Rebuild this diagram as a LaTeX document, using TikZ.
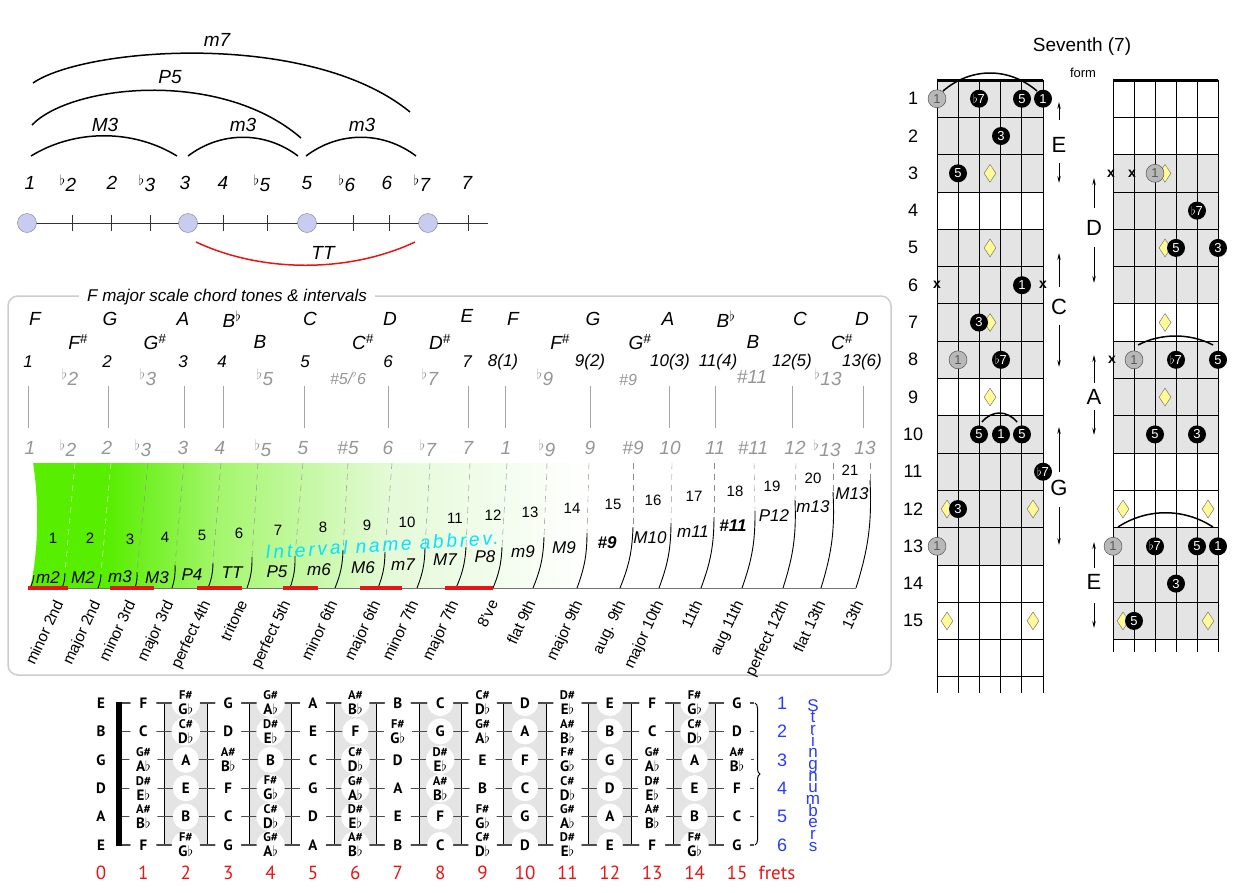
\documentclass[tikz,border=0pt]{standalone}
\usepackage{fontspec}
\setmainfont{Liberation Sans}
\newfontfamily\fretfont{PT Sans}
\usepackage{tikz}
\usetikzlibrary{shapes.geometric, arrows.meta, positioning, decorations.pathreplacing}

\definecolor{dotblue}{RGB}{200,204,240}
\definecolor{tonegray}{RGB}{150,150,150}
\definecolor{boxgray}{RGB}{205,205,205}
\definecolor{shadegray}{RGB}{228,228,228}
\definecolor{mrkyellow}{RGB}{255,250,150}
\definecolor{strblue}{RGB}{40,60,255}
\definecolor{fretred}{RGB}{235,20,20}
\definecolor{abbrcyan}{RGB}{0,228,255}
\definecolor{gA}{RGB}{88,238,0}
\definecolor{gB}{RGB}{165,246,110}
\definecolor{gC}{RGB}{228,250,215}

\pgfdeclarehorizontalshading{greenfade}{100bp}{color(0bp)=(gA); color(25bp)=(gA); color(32bp)=(gA); color(42bp)=(gB); color(57bp)=(gC); color(75bp)=(white); color(100bp)=(white)}

\newcommand\fsz[1]{\fontsize{#1}{#1}\selectfont}
\newcommand\sflat{\textsuperscript{$\flat$}}
\newcommand\twonote[2]{\fontsize{12.5}{11}\selectfont#1\\#2}
\newcommand\notename[1]{\ifcase#1 C\or\twonote{C\#}{D$\flat$}\or D\or\twonote{D\#}{E$\flat$}\or E\or F\or\twonote{F\#}{G$\flat$}\or G\or\twonote{G\#}{A$\flat$}\or A\or\twonote{A\#}{B$\flat$}\or B\fi}

\begin{document}
\begin{tikzpicture}[x=1pt, y=-1pt,
    lbl/.style={font=\itshape\fsz{19}},
    graylbl/.style={font=\itshape\fsz{19}, text=tonegray},
    semi/.style={font=\fsz{15}},
    abbr/.style={font=\itshape\fsz{17}},
    longname/.style={font=\fsz{15.5}, rotate=65, anchor=north east, inner sep=1},
    arcline/.style={line width=1.5},
    note/.style={circle, fill=white, minimum size=26, inner sep=0, align=center, font=\fretfont\bfseries\fsz{15}},
    fretnum/.style={font=\fretfont\fsz{19}, text=fretred},
    dot/.style={circle, fill=black, text=white, minimum size=18, inner sep=0, font=\fsz{13}},
    rdot/.style={circle, fill=black!28, draw=black!75, text=black!65, minimum size=18, inner sep=0, font=\fsz{13}},
    mrk/.style={diamond, fill=mrkyellow, draw=black!60, minimum width=12, minimum height=18, inner sep=0},
    xmark/.style={font=\bfseries\fsz{14}},
    fretline/.style={line width=0.8},
    lblarrow/.style={-{Stealth[length=7pt,width=3.5pt]}, line width=0.8},
    formlbl/.style={font=\fsz{22}}
]
\useasboundingbox (0,0) rectangle (1241,892);

% ---- intervals of the seventh chord
\draw[black!80, line width=1] (27,223) -- (488,223);
\foreach \x in {72,111,150,223,267,353,389,468}
  \draw[black!80] (\x,215) -- (\x,231);
\foreach \x [count=\i] in {27,188,307,428}
  \node[circle, fill=dotblue, draw=black!50, minimum size=19, inner sep=0] (deg\i) at (\x,223) {};
\foreach \x/\t in {30/1, 68/\sflat2, 112/2, 147/\sflat3, 185/3, 223/4, 262/\sflat5, 307/5, 347/\sflat6, 387/6, 422/\sflat7, 467/7}
  \node[lbl] at (\x,183) {\t};
\draw[arcline] (31,156) .. controls (75,129) and (133,129) .. (177,156);
\draw[arcline] (188,156) .. controls (221,131) and (265,131) .. (298,156);
\draw[arcline] (306,156) .. controls (339,131) and (383,131) .. (416,156);
\draw[arcline] (32,125) .. controls (70,85) and (220,68) .. (301,138);
\draw[arcline] (33,83) .. controls (85,47) and (310,30) .. (410,112);
\draw[arcline, fretred] (196,242) .. controls (262,273) and (349,273) .. (415,242);
\node[lbl] (iM3) at (105,125) {M3};
\node[lbl] (im3a) at (243,125) {m3};
\node[lbl] (im3b) at (362,125) {m3};
\node[lbl] (iP5) at (170,77) {P5};
\node[lbl] (im7) at (217,40) {m7};
\node[lbl] (iTT) at (323,253) {TT};

% ---- chord tones box
\draw[boxgray, line width=1.5, rounded corners=10] (8,296) rectangle (891,675);
\node[fill=white, inner xsep=8, font=\itshape\fsz{17}] (boxtitle) at (227,297) {F major scale chord tones \& intervals};

\foreach \x/\t in {35/F, 110/G, 183/A, 310/C, 390/D, 513/F, 593/G, 668/A, 800/C, 862/D}
  \node[lbl] at (\x,319) {\t};
\node[lbl] at (467,316) {E};
\node[lbl] at (232,319) {B\sflat};
\node[lbl] at (726,319) {B\sflat};
\foreach \x/\t in {78/F, 155/G, 363/C, 440/D, 560/F, 640/G, 842/C}
  \node[lbl] at (\x,342) {\t\textsuperscript{\#}};
\node[lbl] at (260,342) {B};
\node[lbl] at (753,342) {B};

\foreach \x/\t in {28/1, 107/2, 183/3, 222/4, 305/5, 388/6, 467/7, 503/8(1), 590/9(2), 670/10(3), 718/11(4), 792/12(5), 862/13(6)}
  \node[lbl, font=\itshape\fsz{17}] at (\x,362) {\t};
\foreach \x/\t in {70/\sflat2, 148/\sflat3, 265/\sflat5, 430/\sflat7, 545/\sflat9, 752/\#11, 828/\sflat13}
  \node[graylbl] at (\x,377) {\t};
\node[graylbl, font=\itshape\fsz{16}] at (348,377) {\#5/\sflat6};
\node[graylbl, font=\itshape\fsz{16}] at (628,380) {\#9};
\foreach \x in {28,108,184,223,304,388,468,505,590,669,715,792,863}
  \draw[black!35] (\x,386) -- (\x,428);
\foreach \x/\t in {30/1, 68/\sflat2, 107/2, 143/\sflat3, 183/3, 220/4, 263/\sflat5, 303/5, 348/\#5, 388/6, 428/\sflat7, 468/7, 506/1, 547/\sflat9, 590/9, 633/\#9, 670/10, 715/11, 753/\#11, 795/12, 827/\sflat13, 865/13}
  \node[graylbl] at (\x,448) {\t};

% green semitone band
\shade[shading=greenfade] (33,463) .. controls (39,500) and (39,550) .. (30,588) -- (590,588) -- (590,463) -- cycle;
\foreach \xd/\xt/\yt/\xb [count=\i] in {33/34/575/30, 75/65/573/62, 111/101/574/98, 148/137/572/135, 184/175/565/172, 221/213/563/208, 258/252/557/247, 303/295/556/290, 348/343/550/335, 392/385/552/378, 430/425/548/417, 470/466/547/456, 507/502/547/493, 547/544/537/533, 589/587/533/577, 633/633/527/620, 672/671/523/659, 714/714/517/701, 754/755/511/742, 796/795/500/783, 833/833/492/821, 870/870/480/856}{
  \ifnum\i<4 \def\dc{white}\else\def\dc{black!45}\fi
  \draw[\dc, dash pattern=on 6pt off 5pt] (\xd,463) -- (\xt,\yt);
  \draw[line width=0.9] (\xt,\yt) to[bend left=10] (\xb,588);
}
\draw[black!55] (28,588) -- (856,588);
\foreach \a/\b in {28/68, 110/154, 197/242, 283/318, 360/402, 445/493}
  \draw[fretred, line width=4] (\a,588) -- (\b,588);
\foreach \x/\y [count=\i] in {53/538, 90/538, 130/539, 165/537, 202/535, 239/533, 278/530, 323/527, 367/525, 407/522, 455/518, 493/515, 530/512, 572/508, 613/504, 653/500, 694/496, 735/491, 772/486, 813/478, 850/470}
  \node[semi] (semi\i) at (\x,\y) {\i};
\foreach \x/\y/\t in {48/578/m2, 83/578/M2, 120/577/m3, 157/578/M3, 192/575/P4, 232/573/TT, 277/572/P5, 319/570/m6, 363/568/M6, 403/565/m7, 445/560/M7, 485/557/P8, 523/552/m9, 564/548/M9, 650/538/M10, 693/532/m11, 774/516/P12, 813/507/m13, 852/494/M13}
  \node[abbr] at (\x,\y) {\t};
\node[abbr, font=\bfseries\itshape\fsz{17}] at (607,543) {\#9};
\node[abbr, font=\bfseries\itshape\fsz{17}] at (733,526) {\#11};
\node[text=abbrcyan, font=\itshape\fsz{19}\addfontfeature{LetterSpace=15}, rotate=3.5] (abbrev) at (382,545) {Interval name abbrev.};
\foreach \x/\t in {53/minor 2nd, 90/major 2nd, 125/minor 3rd, 163/major 3rd, 200/perfect 4th, 237/tritone, 280/perfect 5th, 327/minor 6th, 370/major 6th, 408/minor 7th, 448/major 7th, 488/8've, 525/flat 9th, 572/major 9th, 615/aug. 9th, 653/major 10th, 692/11th, 733/aug 11th, 778/perfect 12th, 815/flat 13th, 853/13th}
  \node[longname] at (\x,597) {\t};

% ---- fretboard with note names
\foreach \k in {2,4,...,14}
  \fill[shadegray] ({101+42.4*(\k-0.5)},703) rectangle ({101+42.4*(\k+0.5)},845);
\foreach \k in {1,...,14}
  \draw[line width=1] ({101+42.4*(\k+0.5)},703) -- ({101+42.4*(\k+0.5)},845);
\foreach \s in {1,...,6}
  \draw[black!70, line width=1.2] (119,{703+28.4*(\s-1)}) -- (754,{703+28.4*(\s-1)});
\fill (116,702) rectangle (122,846);
\foreach \s/\o/\t in {1/4/E, 2/11/B, 3/7/G, 4/2/D, 5/9/A, 6/4/E}{
  \node[note] (open\s) at (101,{703+28.4*(\s-1)}) {\t};
  \foreach \k in {1,...,15}{
    \pgfmathtruncatemacro\nn{mod(\o+\k,12)}
    \node[note] (n\s-\k) at ({101+42.4*\k},{703+28.4*(\s-1)}) {\notename{\nn}};
  }
  \node[font=\fsz{18}, text=strblue] (snum\s) at (782,{703+28.4*(\s-1)}) {\s};
}
\draw[line width=1, decorate, decoration={brace, amplitude=5}] (755,703) -- (755,845);
\foreach \k in {0,...,15}
  \node[fretnum] (fret\k) at ({101+42.4*\k},873) {\k};
\node[fretnum] (fretslbl) at (777,873) {frets};
\foreach \ch [count=\i] in {S,t,r,i,n,g,n,u,m,b,e,r,s}
  \node[font=\fsz{17}, text=strblue, anchor=base, inner sep=0] at (813,{711+11.67*(\i-1)}) {\ch};

% ---- seventh chord forms
\node[font=\fsz{19}] (charttitle) at (1082,47) {Seventh (7)};
\node[font=\fsz{13}] (formtitle) at (1083,73) {form};
\foreach \n in {1,...,15}
  \node[font=\fsz{18}] (fn\n) at (913,{80+37.3*(\n-0.5)}) {\n};

% left form
\fill[shadegray] (937,80) rectangle (1043,{80+37.3*3});
\fill[shadegray] (937,{80+37.3*4}) rectangle (1043,{80+37.3*8});
\fill[shadegray] (937,{80+37.3*9}) rectangle (1043,{80+37.3*13});
\foreach \n in {1,...,16}
  \draw[fretline] (937,{80+37.3*\n}) -- (1043,{80+37.3*\n});
\foreach \c in {0,...,5}
  \draw[fretline] ({937+21.2*\c},80) -- ({937+21.2*\c},693);
\draw[line width=3] (937,80) -- (1043,80);

% right form
\fill[shadegray] (1113,{80+37.3*2}) rectangle (1218,{80+37.3*6});
\fill[shadegray] (1113,{80+37.3*7}) rectangle (1218,{80+37.3*10});
\fill[shadegray] (1113,{80+37.3*12}) rectangle (1218,{80+37.3*15});
\foreach \n in {1,...,15}
  \draw[fretline] (1113,{80+37.3*\n}) -- (1218,{80+37.3*\n});
\foreach \c in {0,...,5}
  \draw[fretline] ({1113+21*\c},80) -- ({1113+21*\c},652);
\draw[line width=3] (1113,80) -- (1218,80);

% position markers
\foreach \x/\y in {990/173.3, 990/247.9, 990/322.5, 990/397.1, 947/509, 1033/509, 947/620.9, 1033/620.9, 1165/173.3, 1165/247.9, 1165/322.5, 1165/397.1, 1123/509, 1208/509, 1123/620.9, 1208/620.9}
  \node[mrk] at (\x,\y) {};

% left form tones
\node[rdot] (La1) at (937,98.7) {1};
\node[dot] (La7) at (979,98.7) {$\flat$7};
\node[dot] (La5) at (1022,98.7) {5};
\node[dot] (La1b) at (1043,98.7) {1};
\node[dot] (La3) at (1001,136) {3};
\node[dot] (La5b) at (958,173.3) {5};
\node[xmark] (Lx1) at (937,285.2) {x};
\node[dot] (Lc1) at (1022,285.2) {1};
\node[xmark] (Lx2) at (1043,285.2) {x};
\node[dot] (Lc3) at (979,322.5) {3};
\node[rdot] (Lc1b) at (958,359.8) {1};
\node[dot] (Lc7) at (1001,359.8) {$\flat$7};
\node[dot] (Lg5) at (979,434.4) {5};
\node[dot] (Lg1) at (1001,434.4) {1};
\node[dot] (Lg5b) at (1022,434.4) {5};
\node[dot] (Lg7) at (1043,471.7) {$\flat$7};
\node[dot] (Lg3) at (958,509) {3};
\node[rdot] (Lg1b) at (937,546.3) {1};
\draw[arcline] (943,91) .. controls (971,67) and (1009,67) .. (1037,91);
\draw[arcline] (982,422) .. controls (992,410) and (1007,410) .. (1017,422);

% right form tones
\node[xmark] (Rx1) at (1111,173.3) {x};
\node[xmark] (Rx2) at (1132,173.3) {x};
\node[rdot] (Rd1) at (1155,173.3) {1};
\node[dot] (Rd7) at (1197,210.6) {$\flat$7};
\node[dot] (Rd5) at (1176,247.9) {5};
\node[dot] (Rd3) at (1218,247.9) {3};
\node[xmark] (Rx3) at (1112,359.8) {x};
\node[rdot] (Ra1) at (1134,359.8) {1};
\node[dot] (Ra7) at (1176,359.8) {$\flat$7};
\node[dot] (Ra5) at (1218,359.8) {5};
\node[dot] (Ra5b) at (1155,434.4) {5};
\node[dot] (Ra3) at (1197,434.4) {3};
\node[rdot] (Re1) at (1113,546.3) {1};
\node[dot] (Re7) at (1155,546.3) {$\flat$7};
\node[dot] (Re5) at (1197,546.3) {5};
\node[dot] (Re1b) at (1218,546.3) {1};
\node[dot] (Re3) at (1176,583.6) {3};
\node[dot] (Re5b) at (1134,620.9) {5};
\draw[arcline] (1138,345) .. controls (1161,333) and (1190,333) .. (1213,345);
\draw[arcline] (1118,527) .. controls (1147,508) and (1184,508) .. (1213,527);

% form letters with ranges
\foreach \x/\y/\t/\ua/\ub/\da/\db in {1059/145/E/120/102/163/183, 1059/307/C/287/253/325/367, 1059/488/G/472/427/507/545, 1094/228/D/208/178/247/283, 1094/397/A/383/355/410/435, 1094/582/E/568/542/603/628}{
  \node[formlbl] (form\t\y) at (\x,\y) {\t};
  \draw[lblarrow] (\x,\ua) -- (\x,\ub);
  \draw[lblarrow] (\x,\da) -- (\x,\db);
}
\end{tikzpicture}
\end{document}
